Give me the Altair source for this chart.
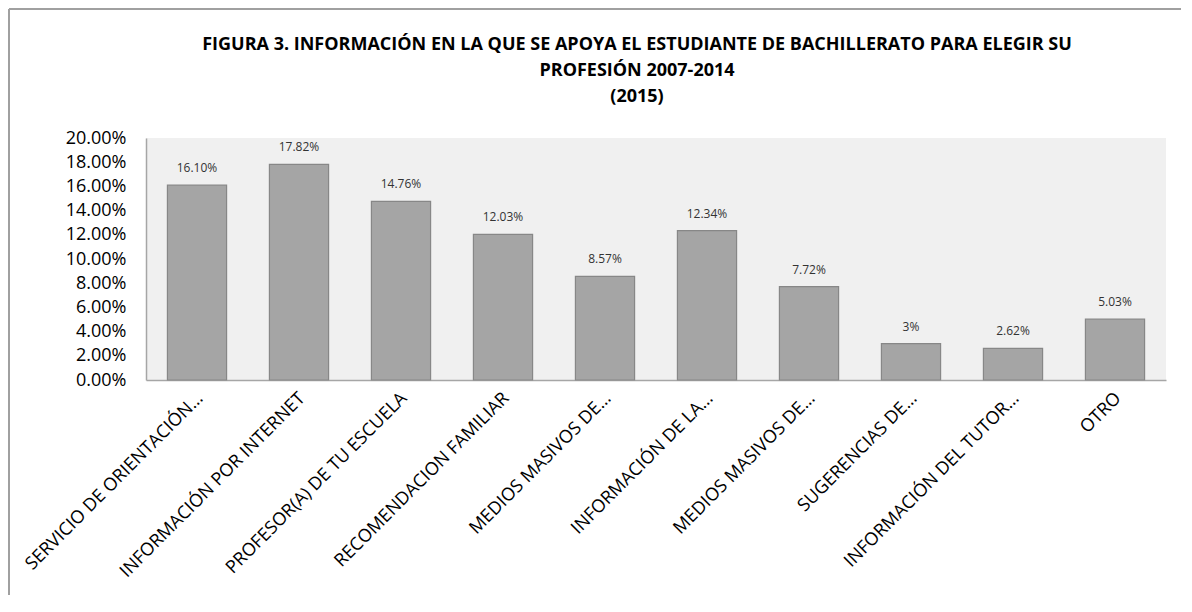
import json
import altair as alt
import pandas as pd

labels = [
    "SERVICIO DE ORIENTACIÓN…",
    "INFORMACIÓN POR INTERNET",
    "PROFESOR(A) DE TU ESCUELA",
    "RECOMENDACION FAMILIAR",
    "MEDIOS MASIVOS DE…",
    "INFORMACIÓN DE LA…",
    "MEDIOS MASIVOS DE…",
    "SUGERENCIAS DE…",
    "INFORMACIÓN DEL TUTOR…",
    "OTRO",
]
values = [0.1610, 0.1782, 0.1476, 0.1203, 0.0857, 0.1234, 0.0772, 0.03, 0.0262, 0.0503]
value_text = ["16.10%", "17.82%", "14.76%", "12.03%", "8.57%", "12.34%", "7.72%", "3%", "2.62%", "5.03%"]
y_ticks = [0, 0.02, 0.04, 0.06, 0.08, 0.10, 0.12, 0.14, 0.16, 0.18, 0.20]
title_lines = [
    "FIGURA 3. INFORMACIÓN EN LA QUE SE APOYA EL ESTUDIANTE DE BACHILLERATO PARA ELEGIR SU",
    "PROFESIÓN 2007-2014",
    "(2015)",
]

df = pd.DataFrame({"id": list(range(len(labels))), "value": values, "txt": value_text})

W, H = 1020, 242
PAD = {"left": 138, "top": 130, "right": 15, "bottom": 215}

label_expr = json.dumps(labels, ensure_ascii=False) + "[datum.value]"

x = alt.X(
    "id:O",
    scale=alt.Scale(paddingInner=0.42, paddingOuter=0.21),
    axis=alt.Axis(
        title=None,
        labelExpr=label_expr,
        labelAngle=-45,
        labelFont="Open Sans",
        labelFontSize=18,
        labelColor="#000000",
        labelPadding=9,
        labelOffset=-3,
        ticks=False,
        domainColor="#a6a6a6",
        domainWidth=1.5,
        labelOverlap=False,
        labelLimit=400,
    ),
)
y = alt.Y(
    "value:Q",
    scale=alt.Scale(domain=[0, 0.2], nice=False),
    axis=alt.Axis(
        title=None,
        values=y_ticks,
        format=".2%",
        grid=False,
        ticks=False,
        labelFont="Open Sans",
        labelFontSize=18,
        labelColor="#000000",
        labelPadding=20,
        domainColor="#a6a6a6",
        domainWidth=1.5,
    ),
)

base = alt.Chart(df)
bars = base.mark_bar(color="#a5a5a5", stroke="#878787", strokeWidth=1.2).encode(x=x, y=y)
texts = base.mark_text(
    font="Open Sans", fontSize=12, color="#333333", dy=-17, baseline="middle"
).encode(x=x, y=y, text="txt:N")

one = pd.DataFrame({"k": [0]})
frame_top = alt.Chart(one).mark_rule(color="#a0a0a0", strokeWidth=2).encode(
    x=alt.value(-137), x2=alt.value(W + PAD["right"] + 5), y=alt.value(-129)
)
frame_left = alt.Chart(one).mark_rule(color="#a0a0a0", strokeWidth=2).encode(
    x=alt.value(-137), y=alt.value(-129), y2=alt.value(H + PAD["bottom"] + 5)
)
title = alt.Chart(one).mark_text(
    text=title_lines,
    font="Open Sans",
    fontSize=18,
    fontWeight="bold",
    color="#000000",
    lineHeight=26,
    align="center",
    baseline="middle",
).encode(x=alt.value(491), y=alt.value(-93))

chart = (
    alt.layer(bars, texts, frame_top, frame_left, title)
    .properties(
        width=W,
        height=H,
        padding=PAD,
        autosize=alt.AutoSizeParams(type="none"),
        background="#ffffff",
    )
    .configure_view(fill="#f0f0f0", stroke=None)
)

chart.save("out.html", embed_options={"renderer": "svg", "actions": False})
